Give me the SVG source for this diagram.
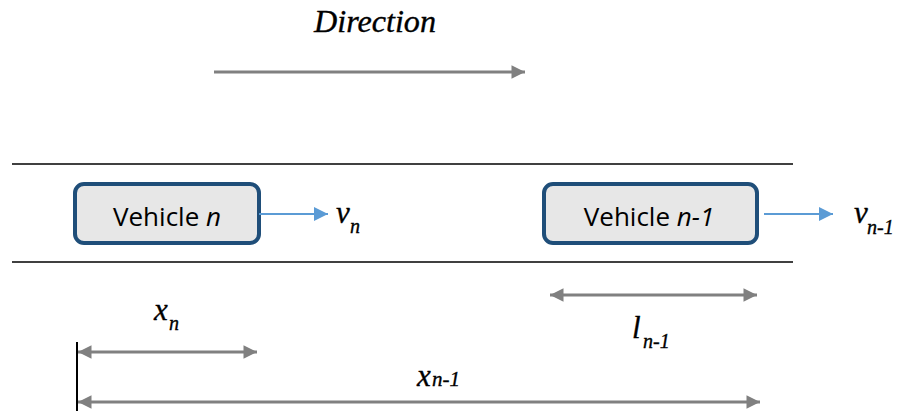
<svg xmlns="http://www.w3.org/2000/svg" width="903" height="413" viewBox="0 0 903 413">
  <style>
    .road { stroke: #000; stroke-width: 1.5; fill: none; }
    .dim { stroke: #808080; stroke-width: 3; fill: none; }
    .speed { stroke: #5b9bd5; stroke-width: 2; fill: none; }
    .box { fill: #e7e7e7; stroke: #1f4e79; stroke-width: 4; }
    .label { font-family: "Open Sans", "Liberation Sans", sans-serif; font-size: 26px; fill: #000; }
    text.math, text.math tspan { font-family: "Liberation Serif", "Times New Roman", "DejaVu Serif", serif; font-style: italic; fill: #000; stroke: #000; stroke-width: 0.35; }
    .math { font-size: 31px; }
    .sub { font-size: 20px; }
  </style>
  <defs>
    <marker id="grayHead" viewBox="0 0 10 10" refX="10" refY="5" markerWidth="5" markerHeight="4.5" markerUnits="strokeWidth" orient="auto-start-reverse">
      <path d="M0,0 L10,5 L0,10 Z" fill="#808080"/>
    </marker>
    <marker id="blueHead" viewBox="0 0 10 10" refX="10" refY="5" markerWidth="7.5" markerHeight="7" markerUnits="strokeWidth" orient="auto">
      <path d="M0,0 L10,5 L0,10 Z" fill="#5b9bd5"/>
    </marker>
  </defs>

  <!-- travel direction -->
  <g id="direction">
    <text class="math" x="314" y="32" font-size="27" textLength="122" lengthAdjust="spacingAndGlyphs">Direction</text>
    <line class="dim" x1="214" y1="72" x2="525" y2="72" marker-end="url(#grayHead)"/>
  </g>

  <!-- road edges -->
  <g id="road">
    <line class="road" x1="12" y1="164" x2="793" y2="164"/>
    <line class="road" x1="12" y1="262" x2="793" y2="262"/>
  </g>

  <g id="vehicle-n">
    <rect class="box" x="75" y="184" width="184" height="59" rx="9"/>
    <text class="label" x="167" y="226" text-anchor="middle">Vehicle <tspan font-style="italic">n</tspan></text>
  </g>

  <g id="vehicle-n-1">
    <rect class="box" x="544" y="184" width="213" height="59" rx="9"/>
    <text class="label" x="649" y="226" text-anchor="middle">Vehicle <tspan font-style="italic">n-1</tspan></text>
  </g>

  <g id="connectors">
    <!-- speeds -->
    <line class="speed" x1="259" y1="214" x2="328" y2="214" marker-end="url(#blueHead)"/>
    <line class="speed" x1="764" y1="214" x2="833" y2="214" marker-end="url(#blueHead)"/>
    <!-- vehicle length -->
    <line class="dim" x1="550" y1="295" x2="757" y2="295" marker-start="url(#grayHead)" marker-end="url(#grayHead)"/>
    <!-- positions -->
    <line class="dim" x1="78" y1="352" x2="257" y2="352" marker-start="url(#grayHead)" marker-end="url(#grayHead)"/>
    <line class="dim" x1="78" y1="402" x2="760" y2="402" marker-start="url(#grayHead)" marker-end="url(#grayHead)"/>
    <!-- reference origin -->
    <line x1="77" y1="342" x2="77" y2="411" stroke="#000" stroke-width="2"/>
  </g>

  <g id="labels">
    <text class="math" x="336" y="223">v<tspan class="sub" x="350" y="233">n</tspan></text>
    <text class="math" x="854" y="223">v<tspan class="sub" x="867" y="234">n-1</tspan></text>
    <text class="math" x="632" y="338" font-size="34">l<tspan class="sub" x="643" y="348">n-1</tspan></text>
    <text class="math" x="417" y="386" font-size="34">x<tspan x="432" y="386" font-size="21">n-1</tspan></text>
    <text class="math" x="154" y="320">x<tspan class="sub" x="169" y="330">n</tspan></text>
  </g>
</svg>
